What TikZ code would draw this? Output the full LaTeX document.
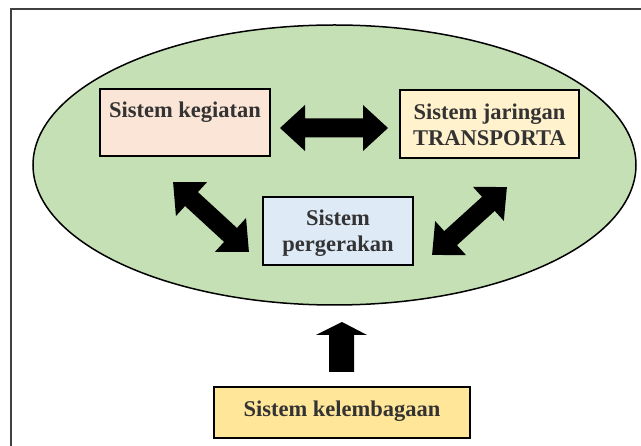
\documentclass[tikz,border=0pt]{standalone}
\usepackage{fontspec}
\setmainfont{Liberation Serif}[BoldFont={Liberation Serif Bold}]
\usetikzlibrary{shapes.geometric}
\definecolor{framegray}{HTML}{404040}
\definecolor{ovalgreen}{HTML}{C5E0B4}
\definecolor{peach}{HTML}{FBE5D6}
\definecolor{cream}{HTML}{FFF2CC}
\definecolor{paleblue}{HTML}{DEEBF7}
\definecolor{gold}{HTML}{FFE699}
\definecolor{inkgray}{HTML}{333333}
\tikzset{
  sysbox/.style={draw=black, line width=1.5pt, rectangle, inner sep=0pt},
  lbl/.style={text=inkgray, font=\bfseries\fontsize{22.5}{26}\selectfont, align=center, inner sep=0pt},
  blockarrow/.style={fill=black, draw=none},
}
% double-headed block arrow of length #1 centred on the origin
\newcommand{\dblarrow}[1]{%
  \fill[blockarrow] (-#1/2,0) -- (-#1/2+25,-23) -- (-#1/2+25,-9.5) -- (#1/2-25,-9.5)
    -- (#1/2-25,-23) -- (#1/2,0) -- (#1/2-25,23) -- (#1/2-25,9.5)
    -- (-#1/2+25,9.5) -- (-#1/2+25,23) -- cycle;}
\begin{document}
\begin{tikzpicture}[x=1pt,y=-1pt]
\useasboundingbox (0,0) rectangle (641,446);
\clip (0,0) rectangle (641,446);
\fill[white] (0,0) rectangle (641,446);
% outer frame
\draw[framegray, line width=2pt] (11,460) -- (11,9) -- (660,9);
% oval background
\node[draw=black, line width=1.5pt, fill=ovalgreen, ellipse, minimum width=603, minimum height=280, inner sep=0pt] (oval) at (334.5,165) {};
% boxes
\node[sysbox, fill=peach, minimum width=170, minimum height=67] (keg) at (185,122.5) {};
\node[lbl] (kegt) at (185,112) {Sistem kegiatan};
\node[sysbox, fill=cream, minimum width=179, minimum height=68] (jar) at (489.5,124) {};
\node[lbl] (jart) at (489.5,125) {Sistem jaringan\\TRANSPORTA};
\node[sysbox, fill=paleblue, minimum width=150, minimum height=68] (ger) at (338,231) {};
\node[lbl] (gert) at (338,233) {Sistem\\pergerakan};
\node[sysbox, fill=gold, minimum width=256, minimum height=51] (lem) at (342,412.5) {};
\node[lbl] (lemt) at (342,411) {Sistem kelembagaan};
% block arrows between the systems
\begin{scope}[shift={(334,128)}]\dblarrow{108}\end{scope}
\begin{scope}[shift={(211,217)}, rotate=-42.6]\dblarrow{103}\end{scope}
\begin{scope}[shift={(469.5,221)}, rotate=42.2]\dblarrow{101}\end{scope}
% upward arrow from the institutional system
\fill[blockarrow] (342,322) -- (367,335) -- (354,335) -- (354,372) -- (329,372) -- (329,335) -- (316,335) -- cycle;
\end{tikzpicture}
\end{document}
